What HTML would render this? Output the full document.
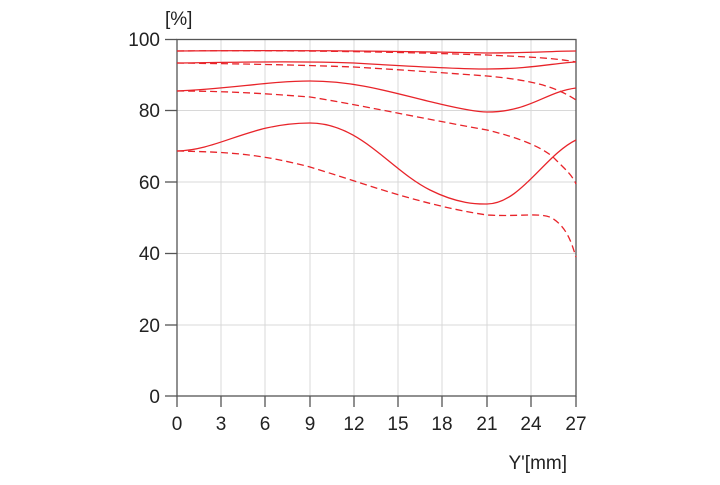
<!DOCTYPE html>
<html><head><style>
body{margin:0;background:#fff;width:720px;height:480px;overflow:hidden}
svg text{font-family:"Liberation Sans",sans-serif;fill:#222}
</style></head><body>
<svg width="720" height="480" viewBox="0 0 720 480">
<g stroke="#d8d8d8" stroke-width="1">
<line x1="221" y1="39" x2="221" y2="396"/><line x1="265" y1="39" x2="265" y2="396"/>
<line x1="310" y1="39" x2="310" y2="396"/><line x1="354" y1="39" x2="354" y2="396"/>
<line x1="398" y1="39" x2="398" y2="396"/><line x1="442" y1="39" x2="442" y2="396"/>
<line x1="487" y1="39" x2="487" y2="396"/><line x1="531" y1="39" x2="531" y2="396"/>
<line x1="177" y1="110.5" x2="576" y2="110.5"/><line x1="177" y1="182" x2="576" y2="182"/>
<line x1="177" y1="253.5" x2="576" y2="253.5"/><line x1="177" y1="325" x2="576" y2="325"/>
</g>
<g stroke="#555" stroke-width="1.3" fill="none">
<rect x="177" y="39.5" width="399" height="356.5"/>
<line x1="165" y1="39.5" x2="177" y2="39.5"/><line x1="165" y1="110.5" x2="177" y2="110.5"/>
<line x1="165" y1="182" x2="177" y2="182"/><line x1="165" y1="253.5" x2="177" y2="253.5"/>
<line x1="165" y1="325" x2="177" y2="325"/><line x1="165" y1="396" x2="177" y2="396"/>
<line x1="177" y1="396" x2="177" y2="407"/><line x1="221" y1="396" x2="221" y2="407"/>
<line x1="265" y1="396" x2="265" y2="407"/><line x1="310" y1="396" x2="310" y2="407"/>
<line x1="354" y1="396" x2="354" y2="407"/><line x1="398" y1="396" x2="398" y2="407"/>
<line x1="442" y1="396" x2="442" y2="407"/><line x1="487" y1="396" x2="487" y2="407"/>
<line x1="531" y1="396" x2="531" y2="407"/><line x1="576" y1="396" x2="576" y2="407"/>
</g>
<g stroke="#e8242a" stroke-width="1.3" fill="none">
<path d="M177 51 C300 50 400 51 487 53 C530 53 555 51 576 51"/>
<path d="M177 63 C250 62 300 61 354 63 C420 67 460 69 487 69 C530 69 555 63 576 62"/>
<path d="M177 91 C230 89 270 81 310 81 C360 81 400 95 440 104 C470 111 480 112 487 112 C530 112 545 92 576 88"/>
<path d="M177 151 C220 150 250 123 310 123 C360 123 390 170 430 190 C460 205 480 204 487 204 C520 204 545 155 576 140"/>
</g>
<g stroke="#e8242a" stroke-width="1.3" fill="none" stroke-dasharray="7,4">
<path d="M177 51 C300 50 400 52 487 55 C530 57 555 58 576 62"/>
<path d="M177 63 C250 64 300 65 354 67 C420 71 460 74 487 76 C530 80 555 86 576 100"/>
<path d="M177 91 C230 91 270 94 310 97 C360 105 420 118 487 130 C520 138 545 148 556 160 C566 170 572 175 576 184"/>
<path d="M177 151 C230 152 260 154 310 167 C360 182 420 205 487 215 C520 217 540 212 552 218 C568 228 572 245 576 257"/>
</g>
<g font-size="19" text-anchor="end">
<text x="160" y="46">100</text><text x="160" y="117">80</text><text x="160" y="189">60</text>
<text x="160" y="260">40</text><text x="160" y="332">20</text><text x="160" y="403">0</text>
</g>
<g font-size="19" text-anchor="middle">
<text x="177" y="430">0</text><text x="221" y="430">3</text><text x="265" y="430">6</text>
<text x="310" y="430">9</text><text x="354" y="430">12</text><text x="398" y="430">15</text>
<text x="442" y="430">18</text><text x="487" y="430">21</text><text x="531" y="430">24</text>
<text x="576" y="430">27</text>
</g>
<text x="165" y="25" font-size="19">[%]</text>
<text x="567" y="469" font-size="19" text-anchor="end">Y'[mm]</text>
</svg>
</body></html>
